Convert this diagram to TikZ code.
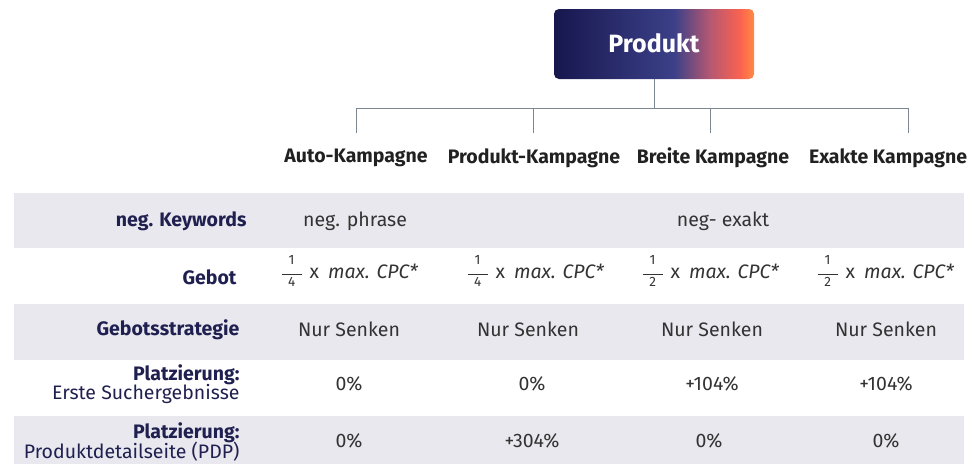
\documentclass[tikz,border=0pt]{standalone}
\usepackage{fontspec}
\setmainfont{Fira Sans}
\usetikzlibrary{positioning}
\definecolor{navy}{HTML}{1F2050}
\definecolor{valtext}{HTML}{333333}
\definecolor{rowgray}{HTML}{E8E8EE}
\definecolor{linegray}{HTML}{7D8791}
\definecolor{gA}{HTML}{17174E}
\definecolor{gB}{HTML}{3B4088}
\definecolor{gC}{HTML}{B55872}
\definecolor{gD}{HTML}{FA6250}
\definecolor{gE}{HTML}{FF8A42}
\pgfdeclarehorizontalshading{prodgrad}{100bp}{
  color(0bp)=(gA); color(25bp)=(gA); color(55bp)=(gB); color(64bp)=(gC);
  color(71.5bp)=(gD); color(75bp)=(gE); color(100bp)=(gE)}
\newcommand{\smallfrac}[2]{$\vcenter{\hbox{\fontsize{13.5}{13.5}\selectfont
  \begin{tabular}{@{}c@{}}\hbox to 20pt{\hss#1\hss}\\[-3pt]\rule{20pt}{0.6pt}\\[-1.5pt]#2\end{tabular}}}$}
\newcommand{\bid}[1]{\smallfrac{1}{#1}\hspace{8pt}x\hspace{9pt}\textit{max. CPC*}}
\begin{document}
\begin{tikzpicture}[x=1pt,y=-1pt,
  conn/.style={draw=linegray, line width=1pt},
  header/.style={font=\fontsize{19.5}{21}\selectfont\bfseries, text=black!87},
  rowlab/.style={font=\fontsize{19.5}{21}\selectfont\bfseries, text=navy, anchor=east},
  sublab/.style={font=\fontsize{19.5}{21}\selectfont, text=navy, anchor=east},
  val/.style={font=\fontsize{19.5}{21}\selectfont, text=valtext},
  band/.style={fill=rowgray, draw=none}]
\useasboundingbox (0,0) rectangle (978,464);

% row bands
\path[band] (14,193) rectangle (964,248);
\path[band] (14,304) rectangle (964,360);
\path[band] (14,416) rectangle (964,464);

% top box
\shade[shading=prodgrad, rounded corners=5pt] (554,9) rectangle (754,79);
\node[font=\fontsize{25}{28}\selectfont\bfseries, text=white] (prod) at (654,43) {Produkt};
\coordinate (ptop) at (654,79);

% tree connectors
\coordinate (hub) at (654,108);
\coordinate (b1) at (356,108);
\coordinate (b4) at (908,108);
\coordinate (t1) at (356,133);
\coordinate (t2) at (533,133);
\coordinate (t3) at (710,133);
\coordinate (t4) at (908,133);
\draw[conn] (ptop) -- (hub);
\draw[conn] (b1) -- (b4);
\draw[conn] (b1) -- (t1);
\draw[conn] (t2 |- hub) -- (t2);
\draw[conn] (t3 |- hub) -- (t3);
\draw[conn] (b4) -- (t4);

% campaign headers
\node[header] (h1) at (356,158) {Auto-Kampagne};
\node[header] (h2) at (534,158) {Produkt-Kampagne};
\node[header] (h3) at (713,158) {Breite Kampagne};
\node[header] (h4) at (888,158) {Exakte Kampagne};

% row labels
\node[rowlab] (l1) at (250,221) {neg. Keywords};
\node[rowlab] (l2) at (240,277) {Gebot};
\node[rowlab] (l3) at (243,330) {Gebotsstrategie};
\node[rowlab] (l4a) at (243,375) {Platzierung:};
\node[sublab] (l4b) at (243,394) {Erste Suchergebnisse};
\node[rowlab] (l5a) at (243,433) {Platzierung:};
\node[sublab] (l5b) at (243,452) {Produktdetailseite (PDP)};

% neg. Keywords
\node[val] (v11) at (355,221) {neg. phrase};
\node[val] (v12) at (723,221) {neg- exakt};

% Gebot
\node[val] (v21) at (350,273) {\bid{4}};
\node[val] (v22) at (536,273) {\bid{4}};
\node[val] (v23) at (711,273) {\bid{2}};
\node[val] (v24) at (886,273) {\bid{2}};

% Gebotsstrategie
\node[val] (v31) at (349,329) {Nur Senken};
\node[val] (v32) at (528,329) {Nur Senken};
\node[val] (v33) at (712,329) {Nur Senken};
\node[val] (v34) at (886,329) {Nur Senken};

% Platzierung: Erste Suchergebnisse
\node[val] (v41) at (349,384) {0\%};
\node[val] (v42) at (532,384) {0\%};
\node[val] (v43) at (712,384) {+104\%};
\node[val] (v44) at (886,384) {+104\%};

% Platzierung: Produktdetailseite
\node[val] (v51) at (349,441) {0\%};
\node[val] (v52) at (532,441) {+304\%};
\node[val] (v53) at (709,441) {0\%};
\node[val] (v54) at (886,441) {0\%};
\end{tikzpicture}
\end{document}
